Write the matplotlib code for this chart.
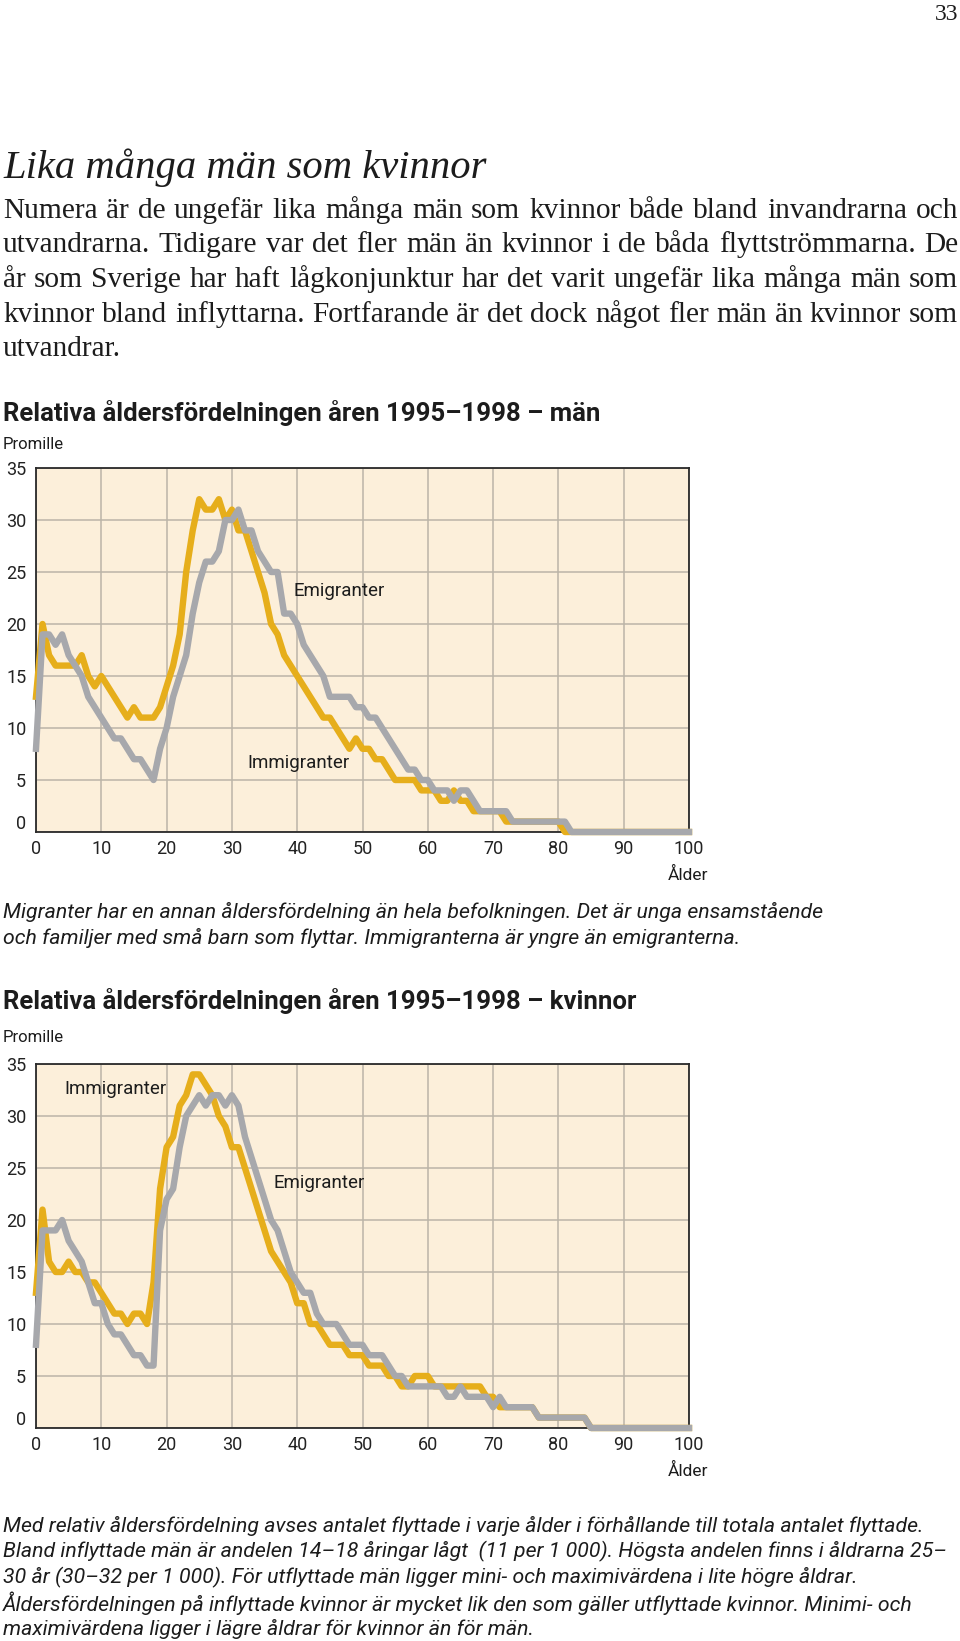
import matplotlib
matplotlib.use("Agg")
import matplotlib.pyplot as plt
from matplotlib.transforms import ScaledTranslation

# Ålder 0-100
ages = list(range(101))

# Promille per ålder, män
men_imm = [13, 20, 17, 16, 16, 16, 16, 17, 15, 14,
           15, 14, 13, 12, 11, 12, 11, 11, 11, 12,
           14, 16, 19, 25, 29, 32, 31, 31, 32, 30,
           31, 29, 29, 27, 25, 23, 20, 19, 17, 16,
           15, 14, 13, 12, 11, 11, 10, 9, 8, 9,
           8, 8, 7, 7, 6, 5, 5, 5, 5, 4,
           4, 4, 3, 3, 4, 3, 3, 2, 2, 2,
           2, 2, 1, 1, 1, 1, 1, 1, 1, 1,
           1, 0, 0, 0, 0, 0, 0, 0, 0, 0,
           0, 0, 0, 0, 0, 0, 0, 0, 0, 0,
           0]
men_emi = [8, 19, 19, 18, 19, 17, 16, 15, 13, 12,
           11, 10, 9, 9, 8, 7, 7, 6, 5, 8,
           10, 13, 15, 17, 21, 24, 26, 26, 27, 30,
           30, 31, 29, 29, 27, 26, 25, 25, 21, 21,
           20, 18, 17, 16, 15, 13, 13, 13, 13, 12,
           12, 11, 11, 10, 9, 8, 7, 6, 6, 5,
           5, 4, 4, 4, 3, 4, 4, 3, 2, 2,
           2, 2, 2, 1, 1, 1, 1, 1, 1, 1,
           1, 1, 0, 0, 0, 0, 0, 0, 0, 0,
           0, 0, 0, 0, 0, 0, 0, 0, 0, 0,
           0]

# Promille per ålder, kvinnor
women_imm = [13, 21, 16, 15, 15, 16, 15, 15, 14, 14,
             13, 12, 11, 11, 10, 11, 11, 10, 14, 23,
             27, 28, 31, 32, 34, 34, 33, 32, 30, 29,
             27, 27, 25, 23, 21, 19, 17, 16, 15, 14,
             12, 12, 10, 10, 9, 8, 8, 8, 7, 7,
             7, 6, 6, 6, 5, 5, 4, 4, 5, 5,
             5, 4, 4, 4, 4, 4, 4, 4, 4, 3,
             3, 2, 2, 2, 2, 2, 2, 1, 1, 1,
             1, 1, 1, 1, 1, 0, 0, 0, 0, 0,
             0, 0, 0, 0, 0, 0, 0, 0, 0, 0,
             0]
women_emi = [8, 19, 19, 19, 20, 18, 17, 16, 14, 12,
             12, 10, 9, 9, 8, 7, 7, 6, 6, 19,
             22, 23, 27, 30, 31, 32, 31, 32, 32, 31,
             32, 31, 28, 26, 24, 22, 20, 19, 17, 15,
             14, 13, 13, 11, 10, 10, 10, 9, 8, 8,
             8, 7, 7, 7, 6, 5, 5, 4, 4, 4,
             4, 4, 4, 3, 3, 4, 3, 3, 3, 3,
             2, 3, 2, 2, 2, 2, 2, 1, 1, 1,
             1, 1, 1, 1, 1, 0, 0, 0, 0, 0,
             0, 0, 0, 0, 0, 0, 0, 0, 0, 0,
             0]

x_ticks = [0, 10, 20, 30, 40, 50, 60, 70, 80, 90, 100]
y_ticks = [0, 5, 10, 15, 20, 25, 30, 35]

title = "Lika många män som kvinnor"
body = [
    "Numera är de ungefär lika många män som kvinnor både bland invandrarna och",
    "utvandrarna. Tidigare var det fler män än kvinnor i de båda flyttströmmarna. De",
    "år som Sverige har haft lågkonjunktur har det varit ungefär lika många män som",
    "kvinnor bland inflyttarna. Fortfarande är det dock något fler män än kvinnor som",
    "utvandrar.",
]
title_men = "Relativa åldersfördelningen åren 1995–1998 – män"
title_women = "Relativa åldersfördelningen åren 1995–1998 – kvinnor"
caption_men = [
    "Migranter har en annan åldersfördelning än hela befolkningen. Det är unga ensamstående",
    "och familjer med små barn som flyttar. Immigranterna är yngre än emigranterna.",
]
caption_women = [
    "Med relativ åldersfördelning avses antalet flyttade i varje ålder i förhållande till totala antalet flyttade.",
    "Bland inflyttade män är andelen 14–18 åringar lågt  (11 per 1 000). Högsta andelen finns i åldrarna 25–",
    "30 år (30–32 per 1 000). För utflyttade män ligger mini- och maximivärdena i lite högre åldrar.",
    "Åldersfördelningen på inflyttade kvinnor är mycket lik den som gäller utflyttade kvinnor. Minimi- och",
    "maximivärdena ligger i lägre åldrar för kvinnor än för män.",
]

# Färger
bg = "#FCEFDA"
yellow = "#E6AE1B"
grey = "#A7A8AC"
gridc = "#BBB4A8"
ink = "#1c1c1c"

plt.rcParams["font.family"] = ["Roboto", "DejaVu Sans"]

W, H = 960, 1641
fig = plt.figure(figsize=(W / 100, H / 100), dpi=100)
renderer = fig.canvas.get_renderer()


def px(x, y):
    return x / W, 1 - y / H


def text_width(s, size, **kw):
    t = fig.text(0, 0, s, fontsize=size, **kw)
    w = t.get_window_extent(renderer).width
    t.remove()
    return w


def fit_text(x, y, s, width, **kw):
    # skala fontstorleken så att raden blir lika bred som i förlagan
    size = 10 * width / text_width(s, 10, **kw)
    fig.text(*px(x, y), s, fontsize=size, va="center", ha="left", color=ink, **kw)
    return size


def justify(x, y, s, width, size, **kw):
    # ord för ord på gemensam baslinje, jämnt fördelat mellanrum
    words = s.split()
    widths = [text_width(w, size, **kw) for w in words]
    gap = (width - sum(widths)) / (len(words) - 1)
    for w, ww in zip(words, widths):
        fig.text(*px(x, y), w, fontsize=size, va="baseline", ha="left", color=ink, **kw)
        x += ww + gap


def chart(top, imm, emi, imm_pos, emi_pos):
    ax = fig.add_axes([36 / W, 1 - (top + 364) / H, 653 / W, 364 / H])
    ax.set_facecolor(bg)
    ax.plot(ages, imm, color=yellow, lw=4.6, clip_on=False, zorder=3,
            solid_joinstyle="round")
    ax.plot(ages, emi, color=grey, lw=4.6, clip_on=False, zorder=3,
            solid_joinstyle="round")
    ax.set_xlim(0, 100)
    ax.set_ylim(0, 35)
    ax.set_xticks(x_ticks)
    ax.set_yticks(y_ticks)
    ax.grid(color=gridc, lw=1.1)
    ax.set_axisbelow(True)
    ax.tick_params(length=0, labelsize=13, labelcolor="#222222")
    ax.tick_params(axis="x", pad=5.5)
    ax.tick_params(axis="y", pad=7)
    for sp in ax.spines.values():
        sp.set_color("#2a2a2a")
        sp.set_linewidth(1.3)
    # nollan sitter lite ovanför x-axeln
    lab = ax.yaxis.get_major_ticks()[0].label1
    lab.set_transform(lab.get_transform() + ScaledTranslation(0, 0.1, fig.dpi_scale_trans))
    ax.text(imm_pos[0], imm_pos[1], "Immigranter", fontsize=13.5, color=ink, va="center")
    ax.text(emi_pos[0], emi_pos[1], "Emigranter", fontsize=13.5, color=ink, va="center")
    fig.text(*px(688, top + 407), "Ålder", fontsize=12.5, color=ink, ha="center", va="center")
    return ax


# Sidnummer och brödtext
serif = dict(family="Liberation Serif")
fig.text(*px(958, 14), "33", fontsize=17, color=ink, ha="right", va="center", **serif)
fit_text(3, 168, title, 484, style="italic", **serif)
s = min(10 * 955 / text_width(line, 10, **serif) for line in body[:-1])
for i, line in enumerate(body[:-1]):
    justify(3, 218 + 34.5 * i, line, 955, s, **serif)
fig.text(*px(3, 356), body[-1], fontsize=s, color=ink, va="baseline", **serif)

# Män
s = fit_text(3, 413, title_men, 597, weight="bold")
fig.text(*px(3, 444), "Promille", fontsize=12, color=ink, va="center")
chart(468, men_imm, men_emi, (32.3, 6.6), (39.4, 23.2))
cs = fit_text(3, 912, caption_men[0], 818, style="italic")
fig.text(*px(3, 938), caption_men[1], fontsize=cs, style="italic", color=ink, va="center")

# Kvinnor
fig.text(*px(3, 1001), title_women, fontsize=s, weight="bold", color=ink, va="center")
fig.text(*px(3, 1037), "Promille", fontsize=12, color=ink, va="center")
chart(1064, women_imm, women_emi, (4.4, 32.6), (36.3, 23.6))
for i, line in enumerate(caption_women):
    fig.text(*px(3, 1526 + 25.8 * i), line, fontsize=cs, style="italic", color=ink,
             va="center")

fig.savefig("out.png", dpi=100, facecolor="white")
